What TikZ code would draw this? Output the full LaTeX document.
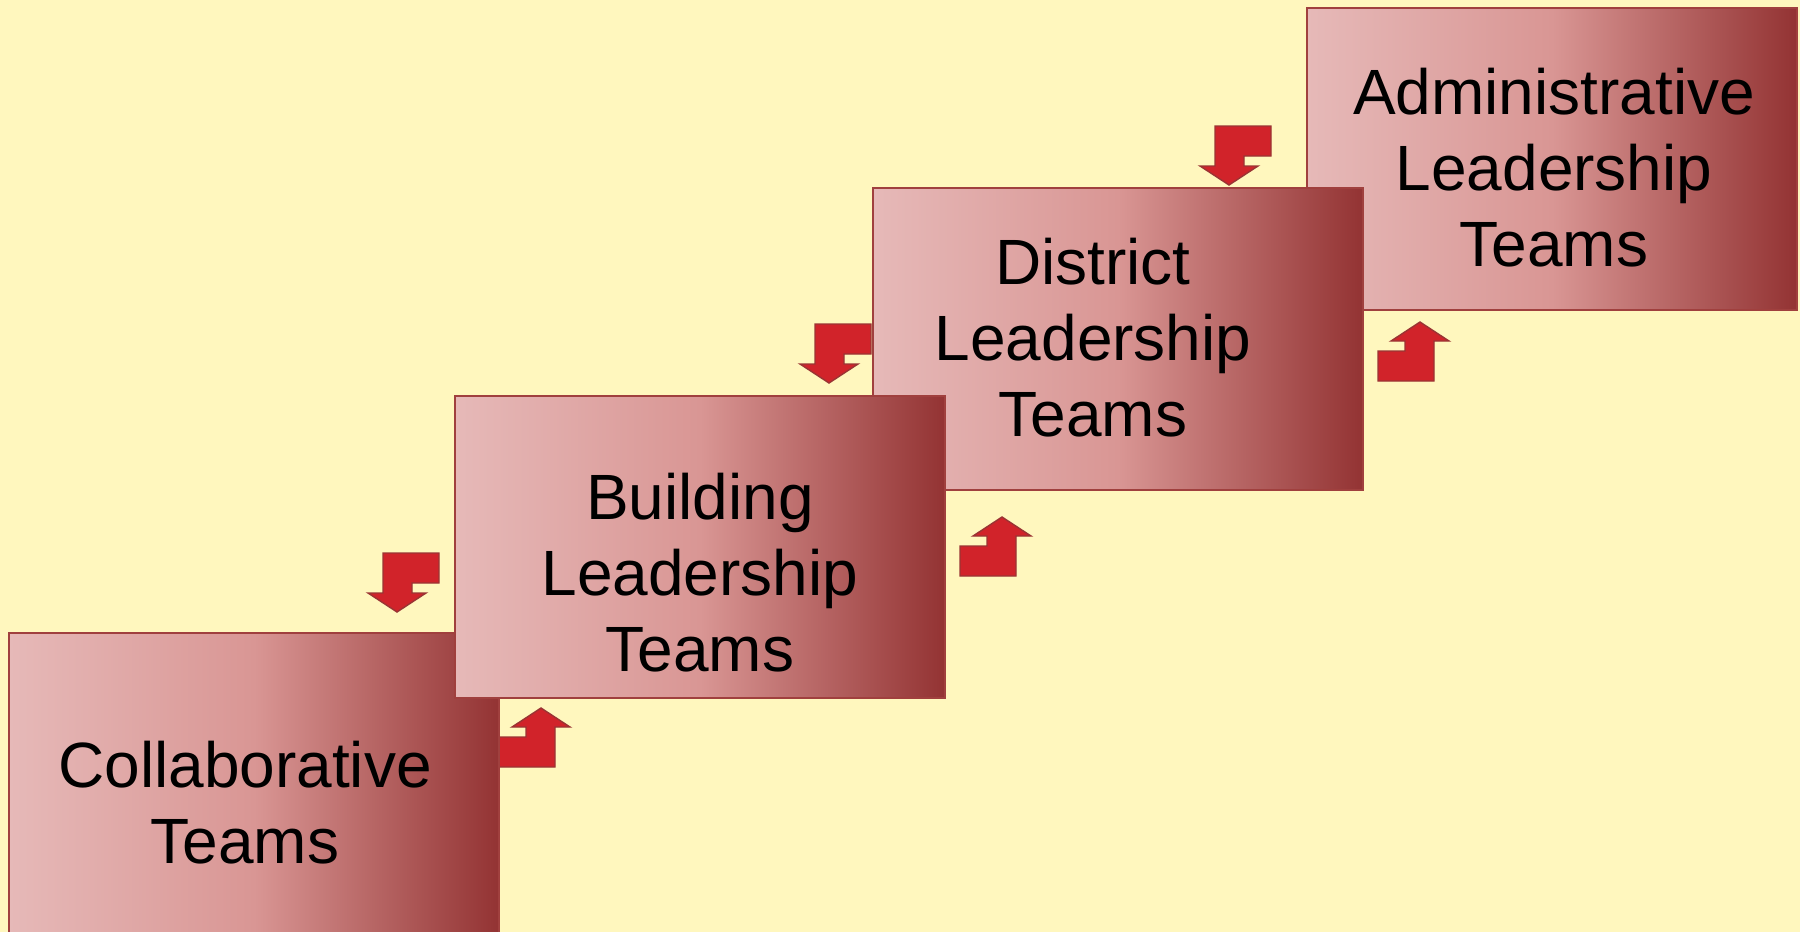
\documentclass[tikz,border=0pt]{standalone}
\usepackage{fontspec}
\setmainfont{Liberation Sans}
\definecolor{bg}{HTML}{FFF7BE}
\definecolor{gleft}{HTML}{E6B9B8}
\definecolor{gmid}{HTML}{D99694}
\definecolor{gright}{HTML}{933333}
\definecolor{edge}{HTML}{A0403E}
\definecolor{arrfill}{HTML}{D1232A}
\definecolor{arredge}{HTML}{9A3434}
\tikzset{
  teambox/.style={draw=edge, line width=0.6pt, left color=gleft, right color=gright, middle color=gmid,
    minimum width=245pt, minimum height=151pt, inner sep=0pt, outer sep=0pt},
  teamtext/.style={align=center, inner sep=0pt, font=\fontsize{32}{38}\selectfont, text=black},
  arrowshape/.style={fill=arrfill, draw=arredge, line width=0.7pt, line join=miter},
  downarrow/.pic={\path[arrowshape] (-14,-59) -- (42,-59) -- (42,-29) -- (15,-29) -- (15,-19) -- (29,-19) -- (0,0) -- (-29,-19) -- (-14,-19) -- cycle;},
  uparrow/.pic={\path[arrowshape] (14,59) -- (-42,59) -- (-42,29) -- (-15,29) -- (-15,19) -- (-29,19) -- (0,0) -- (29,19) -- (14,19) -- cycle;}
}
\begin{document}
\begin{tikzpicture}[x=0.5pt, y=-0.5pt]
  \path[use as bounding box, fill=bg] (0,0) rectangle (1800,932);
  \clip (0,0) rectangle (1800,932);
  % boxes at the back
  \node[teambox] (admin) at (1552,159) {};
  \node[teambox] (district) at (1118,339) {};
  % arrows
  \pic (d3) at (1229,185) {downarrow};
  \pic (u3) at (1420,322) {uparrow};
  \pic (d2) at (829,383) {downarrow};
  \pic (u2) at (1002,517) {uparrow};
  \pic (d1) at (397,612) {downarrow};
  \pic (u1) at (541,708) {uparrow};
  % front boxes
  \node[teambox] (collab) at (254,784) {};
  \node[teambox] (building) at (700,547) {};
  % texts
  \node[teamtext] (admintext) at (1554,168) {Administrative\\Leadership\\Teams};
  \node[teamtext] (districttext) at (1093,338) {District\\Leadership\\Teams};
  \node[teamtext] (buildingtext) at (700,573) {Building\\Leadership\\Teams};
  \node[teamtext] (collabtext) at (245,803) {Collaborative\\Teams};
\end{tikzpicture}
\end{document}
